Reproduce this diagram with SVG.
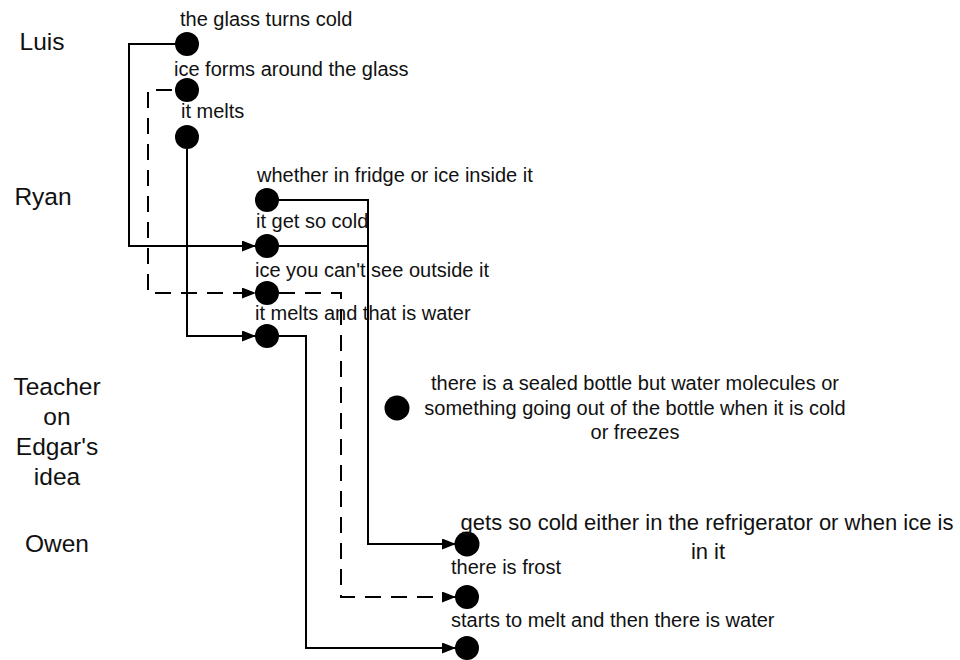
<svg xmlns="http://www.w3.org/2000/svg" width="960" height="660" viewBox="0 0 960 660">
<style>
text{font-family:"Liberation Sans",Arial,sans-serif;fill:#111}
.lbl{font-size:20px}
.big{font-size:22px;text-anchor:middle}
.mid{text-anchor:middle}
.who{font-size:24.5px;text-anchor:middle}
.c{fill:#000}
.ln{fill:none;stroke:#000;stroke-width:2}
.d{stroke-dasharray:16 10}
</style>
<defs>
<marker id="ah" markerWidth="14" markerHeight="11" refX="13" refY="5.5" orient="auto" markerUnits="userSpaceOnUse"><path d="M0,0 L14,5.5 L0,11 z" fill="#000"/></marker>
</defs>
<rect width="960" height="660" fill="#fff"/>
<g id="speakers">
<text class="who" x="42" y="50">Luis</text>
<text class="who" x="43" y="205">Ryan</text>
<text class="who" x="57" y="395">Teacher</text>
<text class="who" x="57" y="425">on</text>
<text class="who" x="57" y="455">Edgar's</text>
<text class="who" x="57" y="485">idea</text>
<text class="who" x="57" y="552">Owen</text>
</g>
<g id="connectors">
<path class="ln" d="M175,44 H129 V246 H255" marker-end="url(#ah)"/>
<path class="ln d" d="M172,90 H148 V293 H255" marker-end="url(#ah)"/>
<path class="ln" d="M187,149 V336 H255" marker-end="url(#ah)"/>
<path class="ln" d="M279,200 H368 V544 H455" marker-end="url(#ah)"/>
<path class="ln" d="M279,246 H368"/>
<path class="ln d" d="M279,293 H341 V597 H455" marker-end="url(#ah)"/>
<path class="ln" d="M279,336 H306 V648 H455" marker-end="url(#ah)"/>
</g>
<g id="n1"><circle class="c" cx="187" cy="44" r="12"/><text class="lbl" x="180" y="26">the glass turns cold</text></g>
<g id="n2"><circle class="c" cx="187" cy="90" r="12"/><text class="lbl" x="174" y="76">ice forms around the glass</text></g>
<g id="n3"><circle class="c" cx="187" cy="137" r="12"/><text class="lbl" x="181" y="118">it melts</text></g>
<g id="n4"><circle class="c" cx="267" cy="200" r="12"/><text class="lbl" x="257" y="182">whether in fridge or ice inside it</text></g>
<g id="n5"><circle class="c" cx="267" cy="246" r="12"/><text class="lbl" x="256" y="228">it get so cold</text></g>
<g id="n6"><circle class="c" cx="267" cy="293" r="12"/><text class="lbl" x="255" y="277">ice you can't see outside it</text></g>
<g id="n7"><circle class="c" cx="267" cy="336" r="12"/><text class="lbl" x="255" y="320">it melts and that is water</text></g>
<g id="n8"><circle class="c" cx="397" cy="408" r="12.5"/><text class="lbl mid" x="635" y="390">there is a sealed bottle but water molecules or</text><text class="lbl mid" x="635" y="415">something going out of the bottle when it is cold</text><text class="lbl mid" x="635" y="439">or freezes</text></g>
<g id="n9"><circle class="c" cx="467" cy="544" r="12.5"/><text class="big" x="707" y="530">gets so cold either in the refrigerator or when ice is</text><text class="big" x="708" y="559">in it</text></g>
<g id="n10"><circle class="c" cx="467" cy="597" r="12"/><text class="lbl" x="451" y="574">there is frost</text></g>
<g id="n11"><circle class="c" cx="467" cy="648" r="12"/><text class="lbl" x="451" y="627">starts to melt and then there is water</text></g>
</svg>
